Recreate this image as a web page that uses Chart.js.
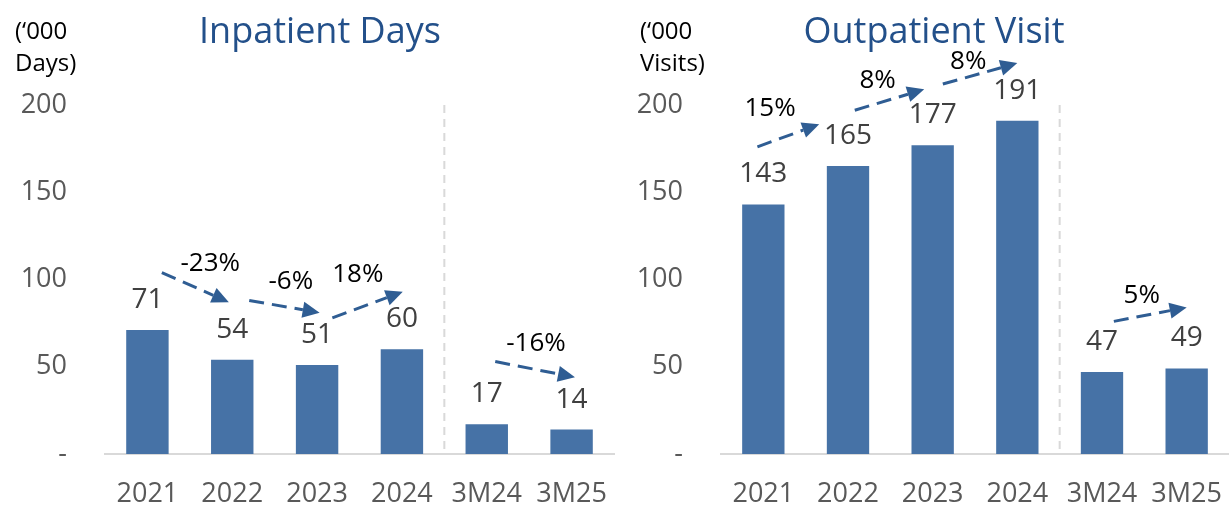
<!DOCTYPE html>
<html>
<head>
<meta charset="utf-8">
<script src="https://cdn.jsdelivr.net/npm/chart.js@4.4.1/dist/chart.umd.min.js"></script>
<style>
  html, body { margin: 0; padding: 0; background: #fff; }
  #wrap { position: relative; width: 1229px; height: 520px; }
  .panel { position: absolute; top: 0; height: 520px; }
</style>
</head>
<body>
<div id="wrap">
  <div class="panel" style="left:0;width:618px"><canvas id="inpatientChart" width="618" height="520"></canvas></div>
  <div class="panel" style="left:614px;width:615px"><canvas id="outpatientChart" width="615" height="520"></canvas></div>
</div>
<script>
const periods = ['2021', '2022', '2023', '2024', '3M24', '3M25'];
const inpatientDays = [71, 54, 51, 60, 17, 14];
const outpatientVisits = [143, 165, 177, 191, 47, 49];
const yTicks = [0, 50, 100, 150, 200];
const inpatientGrowth = ['-23%', '-6%', '18%', '-16%'];
const outpatientGrowth = ['15%', '8%', '8%', '5%'];

const FONT = "'Open Sans', 'DejaVu Sans', sans-serif";
const BAR_COLOR = '#4672a6';
const ARROW_COLOR = '#2f5d93';
const TITLE_COLOR = '#23508a';

// arrow placement in category index / value units: [labelIdx, labelVal, fromIdx, fromVal, toIdx, toVal]
const inpatientArrows = [
    [0.74, 109, 0.17, 104, 0.96, 87],
    [1.69, 99, 1.20, 88, 2.03, 81],
    [2.48, 103, 2.18, 78, 3.01, 93],
    [4.58, 63, 4.10, 53, 5.04, 44]
];
const outpatientArrows = [
    [0.08, 198, -0.07, 176, 0.66, 189],
    [1.35, 214, 1.08, 197, 1.90, 209],
    [2.42, 225, 2.12, 212, 3.00, 224],
    [4.47, 91, 4.14, 76, 5.00, 84]
];

function drawArrow(ctx, x1, y1, x2, y2) {
    const ang = Math.atan2(y2 - y1, x2 - x1);
    const head = 17, half = 8;
    const bx = x2 - head * Math.cos(ang), by = y2 - head * Math.sin(ang);
    ctx.save();
    ctx.strokeStyle = ARROW_COLOR;
    ctx.fillStyle = ARROW_COLOR;
    ctx.lineWidth = 3;
    ctx.setLineDash([15, 8]);
    ctx.beginPath();
    ctx.moveTo(x1, y1);
    ctx.lineTo(bx, by);
    ctx.stroke();
    ctx.setLineDash([]);
    ctx.beginPath();
    ctx.moveTo(x2, y2);
    ctx.lineTo(bx + half * Math.sin(ang), by - half * Math.cos(ang));
    ctx.lineTo(bx - half * Math.sin(ang), by + half * Math.cos(ang));
    ctx.closePath();
    ctx.fill();
    ctx.restore();
}

const annotate = {
    id: 'annotate',
    afterDatasetsDraw(chart, args, opts) {
        const ctx = chart.ctx;
        const xs = chart.scales.x, ys = chart.scales.y;
        const a = xs.getPixelForValue(0), b = xs.getPixelForValue(1);
        const px = i => a + i * (b - a);
        const py = v => ys.getPixelForValue(v);

        // separator between full years and quarters
        ctx.save();
        ctx.strokeStyle = '#d9d9d9';
        ctx.lineWidth = 2;
        ctx.setLineDash([8, 6]);
        ctx.beginPath();
        ctx.moveTo(px(3.5), py(200));
        ctx.lineTo(px(3.5), ys.bottom);
        ctx.stroke();
        ctx.restore();

        // value labels
        ctx.save();
        ctx.font = '28px ' + FONT;
        ctx.fillStyle = '#404040';
        ctx.textAlign = 'center';
        ctx.textBaseline = 'middle';
        const vals = chart.data.datasets[0].data;
        chart.getDatasetMeta(0).data.forEach((bar, i) => {
            ctx.fillText(vals[i], bar.x, bar.y - 30);
        });
        ctx.restore();

        // growth arrows and labels
        opts.arrows.forEach((ar, i) => {
            drawArrow(ctx, px(ar[2]), py(ar[3]), px(ar[4]), py(ar[5]));
            ctx.save();
            ctx.font = '26px ' + FONT;
            ctx.fillStyle = '#000';
            ctx.textAlign = 'center';
            ctx.textBaseline = 'middle';
            ctx.fillText(opts.growth[i], px(ar[0]), py(ar[1]));
            ctx.restore();
        });
    },
    afterDraw(chart, args, opts) {
        const ctx = chart.ctx;
        ctx.save();
        ctx.font = '36px ' + FONT;
        ctx.fillStyle = TITLE_COLOR;
        ctx.textAlign = 'center';
        ctx.textBaseline = 'alphabetic';
        ctx.fillText(opts.title, 320, 43);
        ctx.font = '24px ' + FONT;
        ctx.fillStyle = '#000';
        ctx.textAlign = 'left';
        ctx.fillText('(\u2018000', opts.unitX, 39);
        ctx.fillText(opts.unit, opts.unitX, 71);
        ctx.restore();
    }
};

function makeChart(id, values, axisWidth, padRight, extra) {
    return new Chart(document.getElementById(id), {
        type: 'bar',
        data: {
            labels: periods,
            datasets: [{
                data: values,
                backgroundColor: BAR_COLOR,
                categoryPercentage: 1,
                barPercentage: 0.5
            }]
        },
        options: {
            responsive: false,
            animation: false,
            devicePixelRatio: 1,
            layout: { padding: { top: 105, left: 0, right: padRight, bottom: 0 } },
            plugins: {
                legend: { display: false },
                tooltip: { enabled: false },
                annotate: extra
            },
            scales: {
                x: {
                    grid: { display: false, drawTicks: false },
                    border: { display: true, color: '#d9d9d9', width: 2 },
                    ticks: { color: '#595959', font: { size: 27, family: FONT }, padding: 24, maxRotation: 0 },
                    afterFit: s => { s.height = 66; s.paddingLeft = 0; s.paddingRight = 0; }
                },
                y: {
                    min: 0,
                    max: 200,
                    afterBuildTicks: s => { s.ticks = yTicks.map(v => ({ value: v })); },
                    grid: { display: false, drawTicks: false },
                    border: { display: false },
                    ticks: {
                        color: '#595959',
                        font: { size: 27, family: FONT },
                        padding: 38,
                        callback: v => (v === 0 ? '-' : v)
                    },
                    afterFit: s => { s.width = axisWidth; }
                }
            }
        },
        plugins: [annotate]
    });
}

makeChart('inpatientChart', inpatientDays, 105, 4, {
    title: 'Inpatient Days', unit: 'Days)', unitX: 15,
    growth: inpatientGrowth, arrows: inpatientArrows
});
makeChart('outpatientChart', outpatientVisits, 107, 0, {
    title: 'Outpatient Visit', unit: 'Visits)', unitX: 26,
    growth: outpatientGrowth, arrows: outpatientArrows
});
</script>
</body>
</html>
